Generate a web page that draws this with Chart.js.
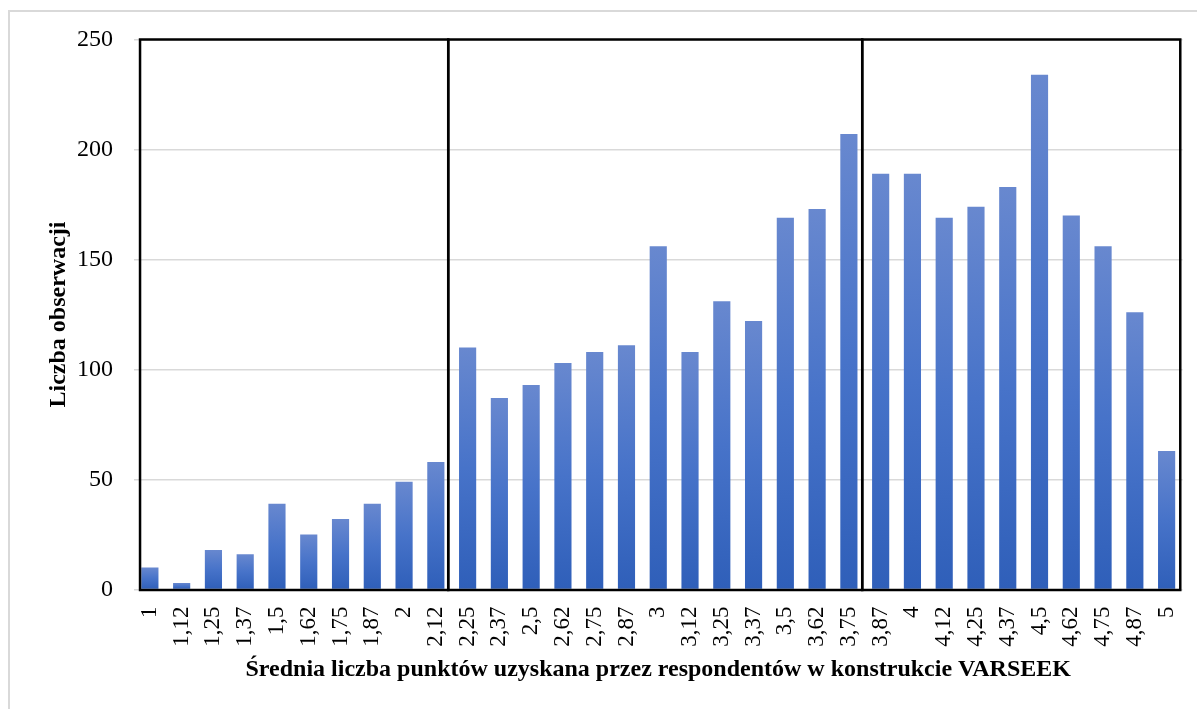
<!DOCTYPE html>
<html>
<head>
<meta charset="utf-8">
<script src="https://cdn.jsdelivr.net/npm/chart.js@4/dist/chart.umd.min.js"></script>
<style>
  html, body { margin: 0; padding: 0; background: #fff; }
  #wrap { position: relative; width: 1197px; height: 709px; }
</style>
</head>
<body>
<div id="wrap"><canvas id="c" width="1197" height="709"></canvas></div>
<script>
// Average VARSEEK score (category labels, Polish decimal comma)
const categories = [
  '1', '1,12', '1,25', '1,37', '1,5', '1,62', '1,75', '1,87', '2', '2,12',
  '2,25', '2,37', '2,5', '2,62', '2,75', '2,87', '3', '3,12', '3,25', '3,37',
  '3,5', '3,62', '3,75', '3,87', '4', '4,12', '4,25', '4,37', '4,5', '4,62',
  '4,75', '4,87', '5'
];

// Number of observations for each average score
const observations = [
  10, 3, 18, 16, 39, 25, 32, 39, 49, 58,
  110, 87, 93, 103, 108, 111, 156, 108, 131, 122,
  169, 173, 207, 189, 189, 169, 174, 183, 234, 170,
  156, 126, 63
];

// Y axis range and step
const yTicks = { min: 0, max: 250, step: 50 };

// Group frames, as fractional category positions (left edge, dividers, right edge)
const groupEdges = [-0.31, 9.39, 22.42, 32.43];

const serif = "'Liberation Serif', 'Times New Roman', serif";

// Vertical gradient per bar: lighter at the top, darker at the base
function barGradient(ctx) {
  const chart = ctx.chart;
  const ys = chart.scales.y;
  if (!chart.chartArea || !ys || ctx.type !== 'data') return '#4472c4';
  const top = ys.getPixelForValue(ctx.raw);
  const base = ys.getPixelForValue(0);
  if (!isFinite(top) || !isFinite(base) || top === base) return '#4472c4';
  const g = chart.ctx.createLinearGradient(0, top, 0, base);
  g.addColorStop(0, '#6888cf');
  g.addColorStop(0.5, '#4773c9');
  g.addColorStop(1, '#2f5fb9');
  return g;
}

// Light outer border around the whole figure
const outerBorder = {
  id: 'outerBorder',
  beforeDraw(chart) {
    const c = chart.ctx;
    c.save();
    c.fillStyle = '#ffffff';
    c.fillRect(0, 0, chart.width, chart.height);
    c.strokeStyle = '#d9d9d9';
    c.lineWidth = 2;
    c.strokeRect(9, 11, chart.width + 50, chart.height + 50);
    c.restore();
  }
};

// Black rectangles grouping the score ranges
const groupFrames = {
  id: 'groupFrames',
  afterDraw(chart) {
    const xs = chart.scales.x, ys = chart.scales.y;
    const p0 = xs.getPixelForValue(0);
    const step = xs.getPixelForValue(1) - p0;
    const xsPix = groupEdges.map(f => p0 + f * step);
    const top = ys.getPixelForValue(yTicks.max);
    const bottom = ys.getPixelForValue(yTicks.min) + 0.5;
    const c = chart.ctx;
    c.save();
    c.strokeStyle = '#000000';
    c.lineWidth = 2.5;
    for (let i = 0; i < xsPix.length - 1; i++) {
      c.strokeRect(xsPix[i], top, xsPix[i + 1] - xsPix[i], bottom - top);
    }
    c.restore();
  }
};

new Chart(document.getElementById('c'), {
  type: 'bar',
  data: {
    labels: categories,
    datasets: [{
      data: observations,
      backgroundColor: barGradient,
      borderWidth: 0,
      categoryPercentage: 1,
      barPercentage: 0.54
    }]
  },
  options: {
    responsive: false,
    animation: false,
    events: [],
    layout: { padding: { top: 39.5, right: 14.5, bottom: 0, left: 0 } },
    plugins: {
      legend: { display: false },
      tooltip: { enabled: false },
      title: { display: false }
    },
    scales: {
      x: {
        grid: { display: false, drawTicks: false },
        border: { display: false },
        ticks: {
          autoSkip: false,
          minRotation: 90,
          maxRotation: 90,
          padding: 17,
          color: '#000000',
          font: { family: serif, size: 23 }
        },
        title: {
          display: true,
          text: 'Średnia liczba punktów uzyskana przez respondentów w konstrukcie VARSEEK',
          color: '#000000',
          font: { family: serif, size: 24, weight: 'bold' },
          padding: { top: 0, bottom: 25 }
        },
        afterFit(s) {
          s.height = 119.5;
          s.paddingLeft = 0;
          s.paddingRight = 0;
        }
      },
      y: {
        min: yTicks.min,
        max: yTicks.max,
        grid: { color: '#d9d9d9', lineWidth: 1.5, drawTicks: false },
        border: { display: false },
        ticks: {
          stepSize: yTicks.step,
          padding: 21,
          color: '#000000',
          font: { family: serif, size: 24 }
        },
        title: {
          display: true,
          text: 'Liczba obserwacji',
          color: '#000000',
          font: { family: serif, size: 24, weight: 'bold' },
          padding: { top: 44, bottom: 0 }
        },
        afterFit(s) { s.width = 134; }
      }
    }
  },
  plugins: [outerBorder, groupFrames]
});
</script>
</body>
</html>
